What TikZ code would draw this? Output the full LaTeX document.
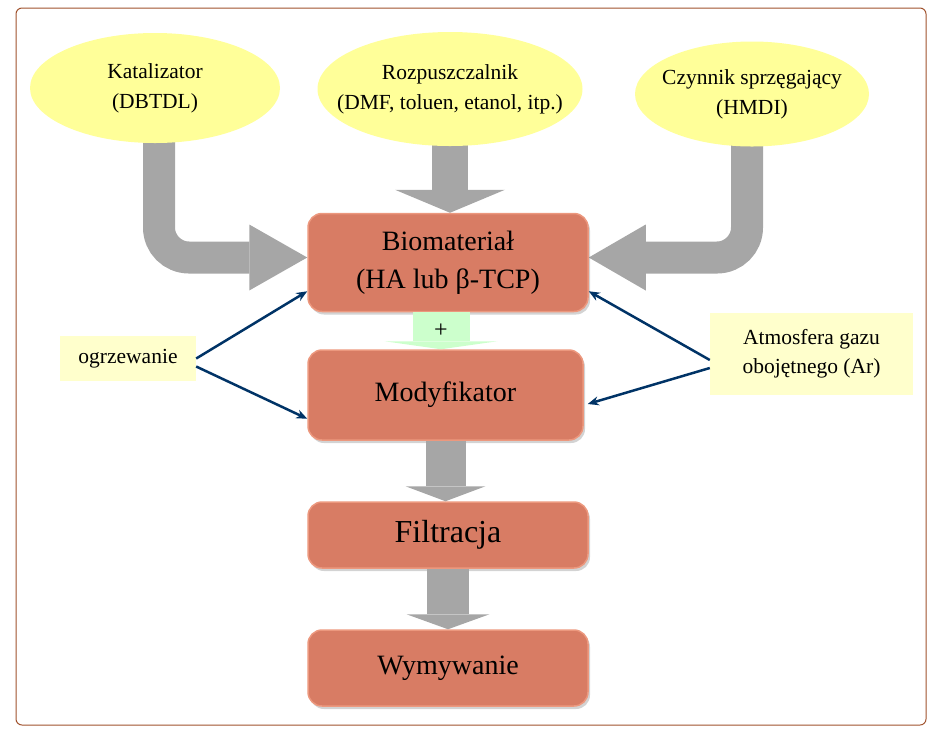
\documentclass[tikz,border=0pt]{standalone}
\usepackage{fontspec}
\setmainfont{Liberation Serif}
\usetikzlibrary{shapes.geometric,arrows.meta,shadows,backgrounds}
\definecolor{ellfill}{RGB}{255,255,153}
\definecolor{notefill}{RGB}{255,255,204}
\definecolor{boxfill}{RGB}{216,124,100}
\definecolor{boxrim}{RGB}{236,152,126}
\definecolor{arrgray}{RGB}{166,166,166}
\definecolor{plusgreen}{RGB}{204,255,204}
\definecolor{linkblue}{RGB}{0,51,102}
\definecolor{framebrown}{RGB}{160,82,45}
\tikzset{
  ell/.style={ellipse,fill=ellfill,inner xsep=-20pt,inner ysep=0pt,align=center,
    font=\fontsize{21.5}{30}\selectfont},
  stage/.style={rectangle,rounded corners=14pt,fill=boxfill,draw=boxrim,
    line width=1.5pt,inner sep=0pt,align=center,
    drop shadow={shadow xshift=2pt,shadow yshift=-3pt,opacity=0.35},
    font=\fontsize{28}{38}\selectfont},
  note/.style={rectangle,fill=notefill,inner sep=0pt,align=center,
    font=\fontsize{21.5}{29}\selectfont},
  link/.style={draw=linkblue,line width=2.5pt,-{Stealth[length=11pt,width=9pt]}}
}
\begin{document}
\begin{tikzpicture}[x=1pt,y=-1pt]
\useasboundingbox (0,0) rectangle (952,748);
\draw[framebrown,rounded corners=6pt,line width=1pt](16,8) rectangle (926,725);

% sources
\node[ell,minimum width=250pt,minimum height=110pt] (kat) at (155,88) {Katalizator\\(DBTDL)};
\node[ell,minimum width=265pt,minimum height=114pt] (roz) at (450,89) {Rozpuszczalnik\\(DMF, toluen, etanol, itp.)};
\node[ell,minimum width=234pt,minimum height=105pt] (czy) at (752,94) {Czynnik sprzęgający\\(HMDI)};

% process steps
\node[stage,minimum width=280pt,minimum height=98pt] (bio) at (448,262.5) {Biomateriał\\(HA lub β-TCP)};
\node[stage,minimum width=275pt,minimum height=90pt] (mod) at (445.5,395) {Modyfikator};
\node[stage,minimum width=280pt,minimum height=66pt,font=\fontsize{32}{38}\selectfont] (fil) at (448,535) {Filtracja};
\node[stage,minimum width=280pt,minimum height=76pt] (wym) at (448,668) {Wymywanie};

% conditions
\node[note,minimum width=136pt,minimum height=45pt] (heat) at (128,358.5) {ogrzewanie};
\node[note,minimum width=203pt,minimum height=82pt] (atm) at (811.5,354) {Atmosfera gazu\\obojętnego (Ar)};

\begin{pgfonlayer}{background}
\draw[arrgray,line width=32pt,rounded corners=30pt,
  -{Triangle[width=66pt,length=58pt,line width=0pt]}]
  ([xshift=4pt]kat.center) |- ([yshift=5pt]bio.west);
\draw[arrgray,line width=32pt,rounded corners=30pt,
  -{Triangle[width=66pt,length=57pt,line width=0pt]}]
  ([xshift=-5pt]czy.center) |- ([yshift=5pt]bio.east);
\draw[arrgray,line width=36pt,-{Triangle[width=110pt,length=23pt,line width=0pt]}]
  (roz.center) -- (roz.south |- bio.north);
\end{pgfonlayer}

\draw[plusgreen,line width=57pt,-{Triangle[width=113pt,length=8pt,line width=0pt]}]
  ([xshift=-7pt]bio.south) -- ([xshift=-7pt]bio.south |- mod.north)
  node[midway,black,font=\fontsize{24}{28}\selectfont] (plus) {+};
\draw[arrgray,line width=40pt,-{Triangle[width=80pt,length=15pt,line width=0pt]}]
  (mod.south) -- (mod.south |- fil.north);
\draw[arrgray,line width=42pt,-{Triangle[width=83pt,length=15pt,line width=0pt]}]
  (fil.south) -- (wym.north);

\draw[link] (heat.east) -- ([yshift=21pt]bio.south west);
\draw[link] ([yshift=-8pt]heat.east) -- ([yshift=22pt]mod.south west);
\draw[link] ([yshift=-6pt]atm.west) -- ([yshift=21pt]bio.south east);
\draw[link] ([yshift=-14pt]atm.west) -- ([xshift=4pt,yshift=-9pt]mod.east);
\end{tikzpicture}
\end{document}
